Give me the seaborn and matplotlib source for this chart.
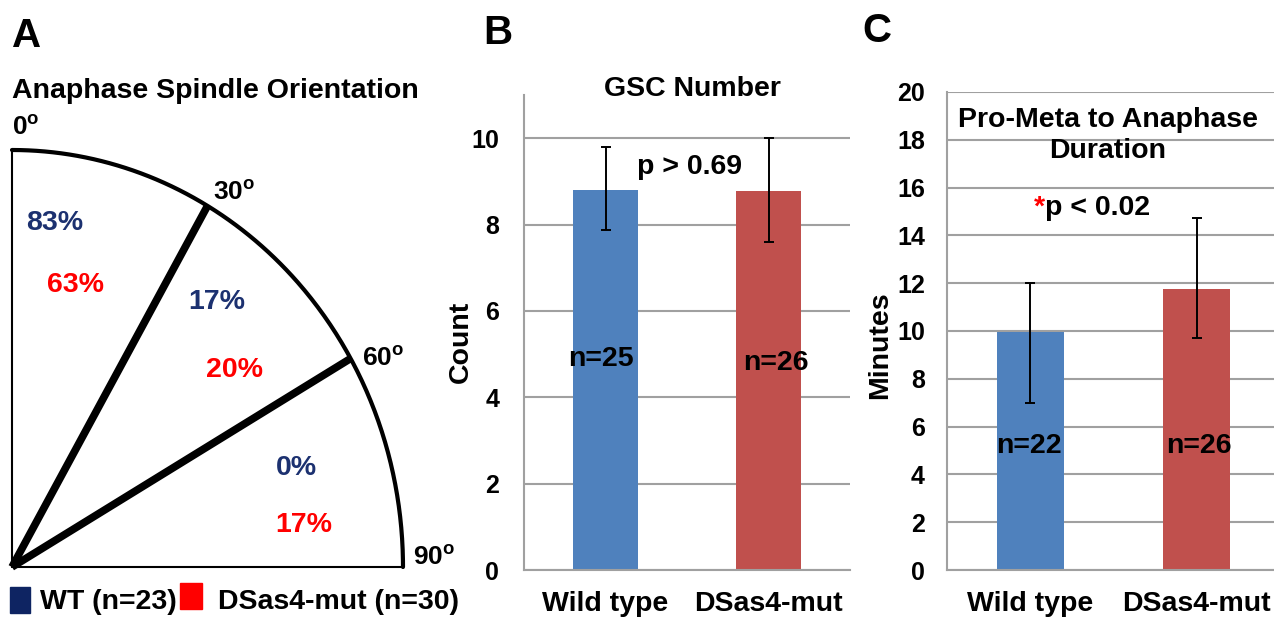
import numpy as np
import pandas as pd
import matplotlib
matplotlib.use("Agg")
import matplotlib.pyplot as plt
from matplotlib.patches import Rectangle
import seaborn as sns

# Panel A - anaphase spindle orientation (sectors measured from vertical)
sector_edges = [30, 60]
angle_labels = ["0", "30", "60", "90"]
wt_pct = ["83%", "17%", "0%"]
mut_pct = ["63%", "20%", "17%"]
legend_labels = ["WT (n=23)", "DSas4-mut (n=30)"]

# Panels B and C
groups = ["Wild type", "DSas4-mut"]

gsc_mean = [8.81, 8.78]
gsc_low = [7.87, 7.60]
gsc_high = [9.80, 10.00]
gsc_n = ["n=25", "n=26"]

dur_mean = [9.94, 11.76]
dur_low = [7.00, 9.69]
dur_high = [12.00, 14.74]
dur_n = ["n=22", "n=26"]

# style
sns.set_style("white")
plt.rcParams['font.family'] = ['Liberation Sans', 'DejaVu Sans']
plt.rcParams['font.weight'] = 'bold'
plt.rcParams['axes.labelweight'] = 'bold'
plt.rcParams['text.color'] = 'black'
plt.rcParams['axes.labelcolor'] = 'black'
plt.rcParams['xtick.labelcolor'] = 'black'
plt.rcParams['ytick.labelcolor'] = 'black'
plt.rcParams['mathtext.fontset'] = 'custom'
plt.rcParams['mathtext.bf'] = 'Liberation Sans:bold'
plt.rcParams['mathtext.rm'] = 'Liberation Sans:bold'

BLUE = '#4F81BD'
RED = '#C0504D'
NAVY = '#1C3170'
PURE_RED = '#FF0000'
GRAY = '#A0A0A0'
FS = 20.5

W, H = 1274, 621
fig = plt.figure(figsize=(W / 100, H / 100), dpi=100)


def fx(x):
    return x / W


def fy(y):
    return 1 - y / H


# ---------------- Panel A ----------------
ax_a = fig.add_axes([fx(12), fy(567), 391 / W, 417 / H])
ax_a.set_xlim(0, 1)
ax_a.set_ylim(0, 1)
ax_a.axis('off')

theta = np.linspace(0, np.pi / 2, 300)
ax_a.plot(np.sin(theta), np.cos(theta), color='black', lw=3, clip_on=False)
ax_a.plot([0, 0], [0, 1], color='black', lw=1.5, clip_on=False)
ax_a.plot([0, 1], [0, 0], color='black', lw=1.5, clip_on=False)
for a in sector_edges:
    r = np.deg2rad(a)
    ax_a.plot([0, np.sin(r)], [0, np.cos(r)], color='black', lw=5.5,
              solid_capstyle='butt', clip_on=False)

fig.text(fx(12), fy(47), "A", fontsize=29, ha='left', va='baseline')
fig.text(fx(12), fy(98), "Anaphase Spindle Orientation", fontsize=FS,
         ha='left', va='baseline')

deg_pos = [(12, 135), (213, 200), (362, 366), (413, 565)]
for lab, (x, y) in zip(angle_labels, deg_pos):
    fig.text(fx(x), fy(y), lab + r"$^{\mathbf{o}}$", fontsize=19,
             ha='left', va='baseline')

wt_pos = [(55, 223), (217, 302), (296, 468)]
mut_pos = [(75, 285), (235, 370), (304, 525)]
for lab, (x, y) in zip(wt_pct, wt_pos):
    fig.text(fx(x), fy(y), lab, fontsize=FS, color=NAVY, ha='center', va='center')
for lab, (x, y) in zip(mut_pct, mut_pos):
    fig.text(fx(x), fy(y), lab, fontsize=FS, color=PURE_RED, ha='center', va='center')

# legend squares + labels
fig.patches.append(Rectangle((fx(10), fy(613)), 20 / W, 26 / H, color='#0E2462',
                             transform=fig.transFigure, figure=fig))
fig.patches.append(Rectangle((fx(180), fy(609)), 22 / W, 26 / H, color=PURE_RED,
                             transform=fig.transFigure, figure=fig))
fig.text(fx(40), fy(602), legend_labels[0], fontsize=FS, ha='left', va='center')
fig.text(fx(218), fy(602), legend_labels[1], fontsize=FS, ha='left', va='center')


# ---------------- bar panels ----------------
def bar_panel(ax, means, lows, highs, ylim, yticks, ylabel):
    df = pd.DataFrame({"group": groups, "value": means})
    sns.barplot(data=df, x="group", y="value", hue="group", palette=[BLUE, RED],
                width=0.4, saturation=1, legend=False, errorbar=None,
                linewidth=0, ax=ax)
    yerr = [np.array(means) - np.array(lows), np.array(highs) - np.array(means)]
    ax.errorbar(x=[0, 1], y=means, yerr=yerr, fmt='none', ecolor='black',
                elinewidth=1.4, capsize=3.5, capthick=1.4, zorder=5)
    ax.set_xlim(-0.5, 1.5)
    ax.set_ylim(*ylim)
    ax.set_yticks(yticks)
    ax.set_xlabel("")
    ax.set_ylabel(ylabel, fontsize=FS)
    ax.grid(axis='y', color=GRAY, lw=1.5)
    ax.set_axisbelow(True)
    sns.despine(ax=ax)
    for s in ['left', 'bottom']:
        ax.spines[s].set_color(GRAY)
        ax.spines[s].set_linewidth(1.5)
    ax.set_xticks([-0.5, 0.5, 1.5], minor=True)
    ax.tick_params(axis='x', which='major', length=0, pad=15, labelsize=FS,
                   labelcolor='black')
    ax.tick_params(axis='x', which='minor', length=6, width=1.5, color=GRAY)
    ax.tick_params(axis='y', length=5, width=1.5, color=GRAY, labelsize=18,
                   labelcolor='black')


# Panel B
ax_b = fig.add_axes([fx(524), fy(570), 326 / W, 475 / H])
bar_panel(ax_b, gsc_mean, gsc_low, gsc_high, (0, 11), range(0, 11, 2), "Count")
ax_b.tick_params(axis='y', pad=13)
ax_b.yaxis.set_label_coords(-0.155, 0.48)
ax_b.text(0.518, 1.013, "GSC Number", transform=ax_b.transAxes, fontsize=FS,
          ha='center', va='center')
ax_b.text(0.508, 9.34, "p > 0.69", transform=ax_b.get_yaxis_transform(),
          fontsize=FS, ha='center', va='center')
ax_b.text(-0.03, 4.88, gsc_n[0], fontsize=FS, ha='center', va='center')
ax_b.text(1.045, 4.79, gsc_n[1], fontsize=FS, ha='center', va='center')
fig.text(fx(483), fy(44), "B", fontsize=29, ha='left', va='baseline')

# Panel C
ax_c = fig.add_axes([fx(947), fy(570), 333 / W, 478 / H])
bar_panel(ax_c, dur_mean, dur_low, dur_high, (0, 20), range(0, 21, 2), "Minutes")
ax_c.tick_params(axis='y', pad=11)
ax_c.yaxis.set_label_coords(-0.163, 0.47)
ax_c.text(0.483, 18.2, "Pro-Meta to Anaphase\nDuration",
          transform=ax_c.get_yaxis_transform(), fontsize=FS, ha='center',
          va='center', multialignment='center', linespacing=1.25)
ax_c.text(0.294, 15.15, "p < 0.02", transform=ax_c.get_yaxis_transform(),
          fontsize=FS, ha='left', va='center')
ax_c.text(0.294, 15.15, "*", transform=ax_c.get_yaxis_transform(),
          fontsize=FS, ha='right', va='center', color=PURE_RED)
ax_c.text(-0.007, 5.19, dur_n[0], fontsize=FS, ha='center', va='center')
ax_c.text(1.01, 5.19, dur_n[1], fontsize=FS, ha='center', va='center')
fig.text(fx(862), fy(42), "C", fontsize=29, ha='left', va='baseline')

fig.savefig("out.png", dpi=100)
